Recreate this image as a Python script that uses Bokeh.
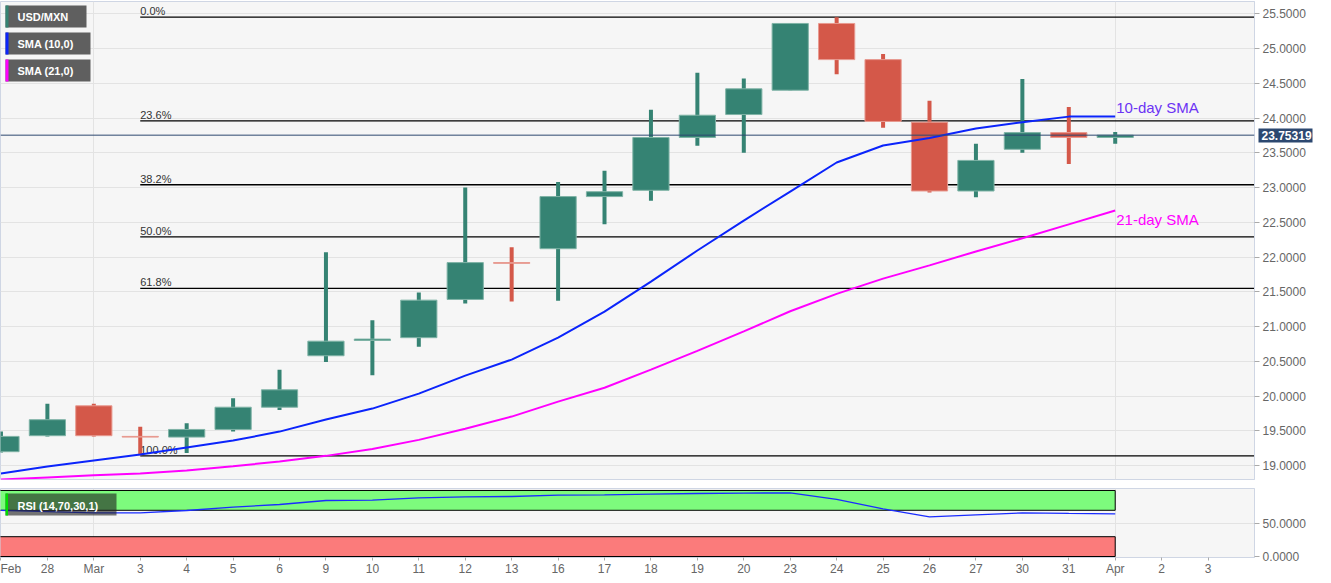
from bokeh.plotting import figure
from bokeh.layouts import column
from bokeh.models import (FixedTicker, PrintfTickFormatter, Range1d, Label,
                          BoxAnnotation, Span, LinearAxis)
from bokeh.core.properties import value
from bokeh.embed import file_html
from bokeh.resources import INLINE

# ---------------- data ----------------
tick_labels = ["Feb", "28", "Mar", "3", "4", "5", "6", "9", "10", "11", "12", "13",
               "16", "17", "18", "19", "20", "23", "24", "25", "26", "27", "30",
               "31", "Apr", "2", "3"]

opens = [19.20, 19.43, 19.86, 19.42, 19.41, 19.52, 19.84, 20.58, 20.80, 20.84,
         21.39, 21.92, 22.12, 22.87, 22.96, 23.72, 24.05, 24.40, 25.36, 24.84,
         23.94, 22.95, 23.55, 23.79, 23.72]
highs = [19.49, 19.89, 19.89, 19.56, 19.61, 19.97, 20.38, 22.07, 21.09, 21.49,
         23.00, 22.14, 23.08, 23.24, 24.12, 24.65, 24.57, 25.36, 25.45, 24.92,
         24.25, 23.63, 24.56, 24.16, 23.80]
lows = [19.19, 19.42, 19.42, 19.15, 19.18, 19.49, 19.80, 20.49, 20.30, 20.71,
        21.33, 21.36, 21.37, 22.47, 22.81, 23.60, 23.50, 24.40, 24.63, 23.86,
        22.93, 22.86, 23.50, 23.34, 23.63]
closes = [19.42, 19.66, 19.43, 19.41, 19.52, 19.84, 20.09, 20.79, 20.82, 21.38,
          21.92, 21.91, 22.87, 22.94, 23.72, 24.04, 24.42, 25.36, 24.84, 23.95,
          22.95, 23.39, 23.79, 23.72, 23.75319]

sma10 = [18.885, 18.986, 19.072, 19.158, 19.259, 19.36, 19.489, 19.662, 19.82,
         20.036, 20.295, 20.525, 20.842, 21.216, 21.647, 22.094, 22.525, 22.942,
         23.36, 23.604, 23.712, 23.849, 23.94, 24.02, 24.02]
sma21 = [18.80, 18.83, 18.86, 18.885, 18.93, 18.99, 19.06, 19.14, 19.24, 19.37,
         19.53, 19.705, 19.92, 20.12, 20.38, 20.65, 20.93, 21.22, 21.47, 21.69,
         21.88, 22.08, 22.27, 22.47, 22.67]
rsi = [70, 68, 66, 66, 69.7, 74.7, 78.8, 84.8, 85.4, 88.9, 90.4, 90.9, 92.9, 93.4,
       94.4, 95.4, 96.0, 96.5, 86.4, 72.2, 60.1, 63.1, 66.1, 65.2, 64.6]

fib_labels = ["0.0%", "23.6%", "38.2%", "50.0%", "61.8%", "100.0%"]
fib_levels = [25.45, 23.96, 23.04, 22.29, 21.55, 19.14]
fib_start = 3          # index of the swing low (Mar 3)
last_price = 23.75319
price_ticks = [19.0, 19.5, 20.0, 20.5, 21.0, 21.5, 22.0, 22.5, 23.0, 23.5, 24.0,
               24.5, 25.0, 25.5]
rsi_ticks = [0, 50]
rsi_upper, rsi_lower = 70, 30
month_ticks = [2, 24]

# ---------------- styling constants ----------------
FONT = "Liberation Sans"
GREEN = "#358373"
RED = "#d45849"
NAVY = "#2c4870"
BG = "#f6f6f6"
BORDER = "#cfd6e4"
GRID = "#e3e3e3"
FW = 1254
FH = 478
RH = 69
RB = 64
X0, X1 = -0.01, 27.0
Y0, Y1 = 18.80, 25.676
R0, R1 = -1.5, 103.0

idx = list(range(len(opens)))
n_ticks = list(range(len(tick_labels)))


def fx(px):
    return X0 + px * (X1 - X0) / FW


def fy(py):
    return Y1 - py * (Y1 - Y0) / FH


def ry(py):
    return R1 - py * (R1 - R0) / RH


x_range = Range1d(X0, X1)

p = figure(frame_width=FW, frame_height=FH, x_range=x_range, y_range=Range1d(Y0, Y1),
           y_axis_location="right", x_axis_location=None,
           output_backend="svg", toolbar_location=None,
           min_border_left=0, min_border_top=1, min_border_bottom=9, min_border_right=RB,
           background_fill_color=BG, border_fill_color="white",
           outline_line_color=BORDER)

p.ygrid.grid_line_color = GRID
p.xgrid.grid_line_color = GRID
p.xgrid.ticker = FixedTicker(ticks=month_ticks)

ya = p.yaxis[0]
ya.ticker = FixedTicker(ticks=price_ticks)
ya.formatter = PrintfTickFormatter(format="%.4f")
ya.axis_line_color = BORDER
ya.major_tick_line_color = "#aaaaaa"
ya.major_tick_out = 5
ya.major_tick_in = 0
ya.minor_tick_line_color = None
ya.major_label_standoff = 3
ya.major_label_text_font = FONT
ya.major_label_text_font_size = "12px"
ya.major_label_text_color = "#666666"

# price tag: a second right-hand axis; its single (thick) tick forms the dark
# tag box and its label is pulled back onto the first axis' label column
tag = LinearAxis(ticker=FixedTicker(ticks=[last_price]),
                 formatter=PrintfTickFormatter(format="%.5f"))
tag.axis_line_color = None
tag.minor_tick_line_color = None
tag.major_tick_line_color = NAVY
tag.major_tick_line_width = 14
tag.major_tick_line_cap = "butt"
tag.major_tick_in = 50
tag.major_tick_out = 4
tag.major_label_standoff = -51
tag.major_label_text_font = FONT
tag.major_label_text_font_size = "12px"
tag.major_label_text_font_style = "bold"
tag.major_label_text_color = "white"
p.add_layout(tag, "right")

# fibonacci levels
p.segment(x0=[fib_start] * len(fib_levels), y0=fib_levels,
          x1=[X1 + 1] * len(fib_levels), y1=fib_levels,
          line_color="black", line_width=1.3)
p.text(x=[fib_start] * len(fib_levels), y=fib_levels, text=fib_labels,
       text_font=value(FONT), text_font_size="11px", text_color="#333333",
       text_baseline="bottom", text_align="left")

# current price line
p.add_layout(Span(location=last_price, dimension="width", line_color=NAVY,
                  line_width=1))

# candles
colors = [GREEN if c >= o else RED for o, c in zip(opens, closes)]
edges = ["#7fb3a6" if c >= o else "#e89a90" for o, c in zip(opens, closes)]
tops = [max(o, c) for o, c in zip(opens, closes)]
bots = [min(o, c) for o, c in zip(opens, closes)]
p.segment(x0=idx, y0=lows, x1=idx, y1=highs, line_color=colors, line_width=4)
p.vbar(x=idx, width=0.78, top=tops, bottom=bots, fill_color=colors,
       line_color=edges, line_width=1)

# moving averages
p.line(idx, sma10, line_color="#0b24fb", line_width=2)
p.line(idx, sma21, line_color="#ff00ff", line_width=2)
p.text(x=[idx[-1]], y=[sma10[-1]], text=["10-day SMA"], text_font=value(FONT),
       text_font_size="15px", text_color="#6c33f4", text_baseline="bottom",
       x_offset=1, y_offset=-1)
p.text(x=[idx[-1]], y=[sma21[-1]], text=["21-day SMA"], text_font=value(FONT),
       text_font_size="15px", text_color="#ff00ff", text_baseline="top",
       x_offset=1, y_offset=1)

# legend boxes (top left)
legend_items = [("USD/MXN", GREEN, 81), ("SMA (10,0)", "#0b24fb", 85),
                ("SMA (21,0)", "#ff00ff", 85)]
for k, (txt, col, w) in enumerate(legend_items):
    top = 4 + 27 * k
    p.add_layout(BoxAnnotation(left=fx(5), right=fx(5 + w), top=fy(top),
                               bottom=fy(top + 22), fill_color="#5f5f5f",
                               fill_alpha=1, line_color=None))
    p.add_layout(BoxAnnotation(left=fx(5), right=fx(8), top=fy(top),
                               bottom=fy(top + 22), fill_color=col,
                               fill_alpha=1, line_color=None))
    p.add_layout(Label(x=fx(17), y=fy(top + 11), text=txt, text_baseline="middle",
                       text_color="white", text_font=FONT, text_font_style="bold",
                       text_font_size="11px"))

# ---------------- RSI panel ----------------
r = figure(frame_width=FW, frame_height=RH, x_range=x_range, y_range=Range1d(R0, R1),
           y_axis_location="right", output_backend="svg", toolbar_location=None,
           min_border_left=0, min_border_top=0, min_border_bottom=0, min_border_right=RB,
           background_fill_color=BG, border_fill_color="white",
           outline_line_color=BORDER)
r.ygrid.grid_line_color = GRID
r.ygrid.ticker = FixedTicker(ticks=[50])
r.xgrid.grid_line_color = GRID
r.xgrid.ticker = FixedTicker(ticks=month_ticks)

ra = r.yaxis[0]
ra.ticker = FixedTicker(ticks=rsi_ticks)
ra.formatter = PrintfTickFormatter(format="%.4f")
xa = r.xaxis[0]
xa.ticker = FixedTicker(ticks=n_ticks)
xa.major_label_overrides = {i: t for i, t in zip(n_ticks, tick_labels)}
for ax in (ra, xa):
    ax.axis_line_color = BORDER
    ax.major_tick_line_color = "#aaaaaa"
    ax.major_tick_in = 0
    ax.minor_tick_line_color = None
    ax.major_label_text_font = FONT
    ax.major_label_text_font_size = "12px"
    ax.major_label_text_color = "#666666"
ra.major_tick_out = 5
ra.major_label_standoff = 3
xa.major_tick_out = 3
xa.major_label_standoff = 1

r.quad(left=[X0 - 1], right=[idx[-1]], bottom=[rsi_upper], top=[100],
       fill_color="#7dfb7d", line_color="black", line_width=1)
r.quad(left=[X0 - 1], right=[idx[-1]], bottom=[0], top=[rsi_lower],
       fill_color="#fb7b7b", line_color="black", line_width=1)
r.line(idx, rsi, line_color="#1a2cff", line_width=1.3)

r.add_layout(BoxAnnotation(left=fx(5), right=fx(116), top=ry(5), bottom=ry(27),
                           fill_color="#222222", fill_alpha=0.62, line_color=None))
r.add_layout(BoxAnnotation(left=fx(5), right=fx(7.5), top=ry(5), bottom=ry(27),
                           fill_color="#00dd00", fill_alpha=1, line_color=None))
r.add_layout(Label(x=fx(17), y=ry(17), text="RSI (14,70,30,1)", text_baseline="middle",
                   text_color="white", text_font=FONT, text_font_style="bold",
                   text_font_size="11px"))

layout = column(p, r, spacing=0)
open("out.html", "w").write(file_html(layout, INLINE))
